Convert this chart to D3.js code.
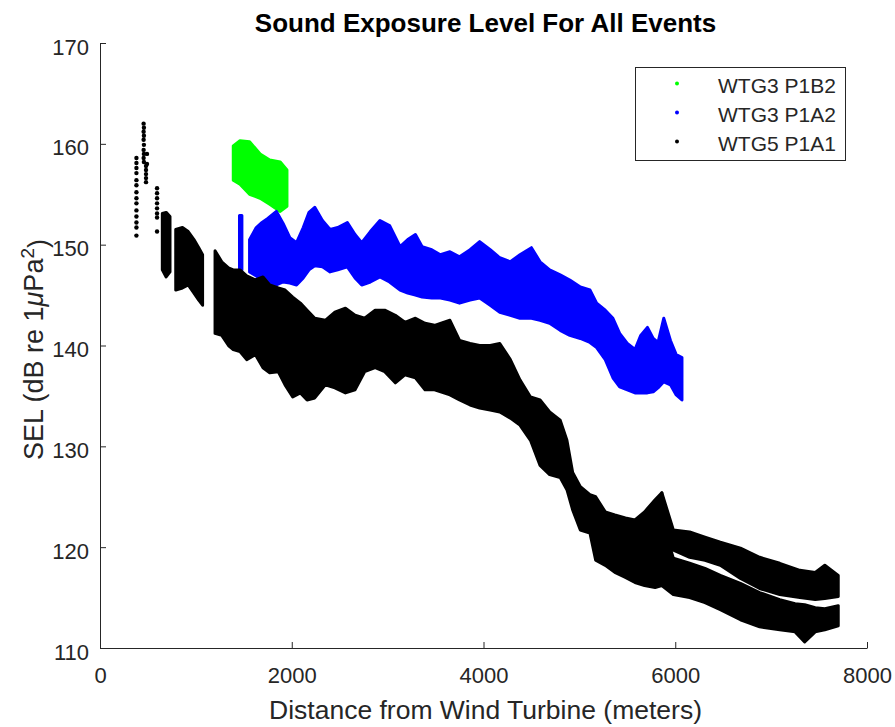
<!DOCTYPE html>
<html>
<head>
<meta charset="utf-8">
<script src="https://cdn.jsdelivr.net/npm/d3@7"></script>
<style>
  body { margin: 0; background: #fff; }
  svg { display: block; font-family: "Liberation Sans", Arial, Helvetica, sans-serif; }
</style>
</head>
<body>
<div id="chart"></div>
<script>
// axis ticks
var xTicks = [0, 2000, 4000, 6000, 8000];
var yTicks = [110, 120, 130, 140, 150, 160, 170];

// legend
var seriesNames = ['WTG3 P1B2', 'WTG3 P1A2', 'WTG5 P1A1'];
var seriesColors = ['#00ff00', '#0000ff', '#000000'];

// WTG3 P1B2
var greenDist = [1390, 1460, 1560, 1670, 1770, 1880, 1950];
var greenLow  = [156.4, 156.0, 155.0, 154.6, 154.0, 153.3, 153.8];
var greenHigh = [159.8, 160.3, 160.2, 159.0, 158.4, 158.2, 157.4];

// WTG3 P1A2, short stick before the main cloud
var blueStickDist = [1455, 1480];
var blueStickLow  = [147.3, 147.5];
var blueStickHigh = [152.9, 152.9];

// WTG3 P1A2 main cloud
var blueDist = [1560, 1630, 1690, 1750, 1840, 1910, 1980, 2050, 2120, 2180, 2240, 2320,
  2400, 2480, 2580, 2660, 2730, 2820, 2920, 3020, 3130, 3210, 3290, 3360, 3460, 3550,
  3650, 3750, 3860, 3960, 4070, 4170, 4280, 4380, 4500, 4590, 4690, 4800, 4900, 5010,
  5110, 5180, 5270, 5350, 5420, 5500, 5580, 5640, 5710, 5770, 5820, 5880, 5950, 6010, 6070];
var blueLow = [147.3, 146.9, 146.5, 146.2, 146.0, 146.3, 146.2, 146.0, 146.7, 147.5, 147.9, 147.8,
  147.3, 147.5, 147.8, 146.7, 146.0, 146.3, 146.8, 146.3, 145.5, 145.2, 145.0, 144.8, 144.7, 144.7,
  144.5, 144.2, 144.5, 144.7, 144.0, 143.3, 143.0, 142.7, 142.7, 142.5, 142.2, 141.5, 141.0, 140.7,
  140.3, 139.8, 138.6, 136.8, 135.9, 135.6, 135.3, 135.3, 135.3, 135.4, 135.8, 136.4, 136.1, 135.1, 134.6];
var blueHigh = [150.5, 151.7, 152.2, 152.6, 153.3, 152.1, 150.7, 150.2, 151.7, 153.2, 153.7, 152.4,
  151.5, 151.7, 152.2, 151.0, 150.2, 151.3, 152.4, 151.9, 149.8, 150.5, 151.0, 149.8, 149.5, 149.0,
  149.3, 148.8, 149.5, 150.3, 149.5, 148.7, 148.3, 149.0, 149.7, 148.3, 147.5, 147.0, 146.5, 145.8,
  145.5, 144.2, 143.5, 142.7, 141.2, 140.2, 139.6, 141.0, 141.8, 140.7, 140.3, 142.7, 140.5, 139.1, 138.8];

// WTG5 P1A1, isolated dots at short range
var sparseDist = [380, 380, 380, 380, 380, 380, 380, 380, 380, 380, 380, 380, 380, 380,
  455, 455, 455, 455, 455, 458, 458, 458, 458, 458, 480, 480, 480, 480, 480, 490, 490,
  595, 595, 595, 595, 595, 595, 595, 595];
var sparseSel = [158.6, 158.1, 157.6, 157.1, 156.4, 155.9, 155.2, 154.6, 154.1, 153.4, 152.8, 152.2, 151.7, 150.9,
  162.0, 161.2, 160.4, 159.4, 158.6, 161.6, 160.8, 159.9, 159.0, 158.2, 157.8, 157.4, 157.0, 156.6, 156.2, 158.0, 159.0,
  155.6, 155.1, 154.6, 154.1, 153.6, 153.1, 152.7, 151.3];

// WTG5 P1A1 small clusters
var blackADist = [650, 690, 730];
var blackALow  = [147.5, 146.8, 147.3];
var blackAHigh = [153.1, 153.2, 152.8];

var blackBDist = [790, 860, 920, 980, 1030, 1070];
var blackBLow  = [145.5, 145.7, 146.0, 145.2, 144.5, 144.0];
var blackBHigh = [151.5, 151.7, 151.3, 150.5, 149.7, 149.0];

// WTG5 P1A1 main cloud
var blackDist = [1200, 1270, 1340, 1390, 1460, 1530, 1620, 1700, 1770, 1860, 1930, 2010, 2090,
  2160, 2240, 2350, 2450, 2560, 2660, 2760, 2870, 2970, 3080, 3180, 3290, 3390, 3490, 3650,
  3750, 3860, 3960, 4070, 4170, 4280, 4380, 4490, 4590, 4690, 4800, 4870, 4930, 5010, 5110,
  5170, 5270, 5370, 5480, 5580, 5680, 5790, 5860];
var blackLow = [141.2, 141.0, 140.0, 139.6, 139.4, 138.6, 139.1, 137.8, 137.3, 137.4, 136.1, 134.9, 135.3,
  134.6, 134.8, 136.1, 135.8, 135.3, 135.6, 137.4, 137.8, 137.4, 136.3, 137.1, 136.8, 135.6, 135.6, 135.1,
  134.6, 134.1, 133.8, 133.6, 133.4, 132.8, 132.1, 130.6, 128.1, 127.2, 126.9, 125.7, 123.7, 121.7, 121.4,
  118.7, 118.2, 117.5, 117.0, 116.5, 116.2, 116.0, 116.2];
var blackHigh = [149.4, 148.3, 147.7, 147.5, 147.5, 146.9, 146.5, 146.8, 146.0, 145.7, 145.5, 144.8, 144.2,
  143.5, 142.7, 142.5, 143.3, 143.7, 143.0, 142.7, 143.5, 143.5, 143.0, 142.3, 142.7, 142.2, 142.0, 142.5,
  140.5, 140.2, 140.0, 140.0, 140.2, 138.6, 136.6, 134.9, 134.6, 133.4, 132.6, 130.6, 127.4, 126.0, 125.2,
  125.0, 123.5, 123.2, 122.9, 122.7, 123.5, 124.7, 125.4];

// WTG5 P1A1 far range, upper and lower strands
var upperDist = [5860, 5980, 6150, 6310, 6470, 6680, 6880, 7090, 7300, 7460, 7560, 7700];
var upperLow  = [120.4, 119.7, 119.0, 118.7, 118.2, 116.9, 115.9, 115.3, 115.0, 114.8, 114.9, 115.1];
var upperHigh = [125.4, 121.7, 121.5, 121.0, 120.5, 119.9, 119.0, 118.4, 117.7, 117.5, 118.2, 117.2];

var lowerDist = [5860, 5980, 6150, 6310, 6470, 6680, 6880, 7090, 7250, 7350, 7460, 7560, 7700];
var lowerLow  = [116.2, 115.3, 115.0, 114.5, 113.8, 112.8, 112.1, 111.8, 111.6, 110.6, 111.6, 111.8, 112.2];
var lowerHigh = [122.7, 118.9, 118.4, 117.9, 117.2, 116.4, 115.5, 114.8, 114.4, 114.3, 114.0, 113.9, 114.2];

var width = 895, height = 727;
var margin = { top: 43, right: 28, bottom: 79, left: 100 };
var fontFamily = '"Liberation Sans", Arial, Helvetica, sans-serif';
var axisColor = '#262626';

var x = d3.scaleLinear().domain([0, 8000]).range([margin.left, width - margin.right]);
var y = d3.scaleLinear().domain([110, 170]).range([height - margin.bottom, margin.top]);

var svg = d3.select('#chart').append('svg')
  .attr('width', width)
  .attr('height', height);

function band(dist, low, high, color) {
  return dist.map(function (d, i) {
    return { d: d, lo: low[i], hi: high[i], color: color };
  });
}

// plot order as in the legend, black ends on top
var bands = [
  band(greenDist, greenLow, greenHigh, seriesColors[0]),
  band(blueStickDist, blueStickLow, blueStickHigh, seriesColors[1]),
  band(blueDist, blueLow, blueHigh, seriesColors[1]),
  band(blackADist, blackALow, blackAHigh, seriesColors[2]),
  band(blackBDist, blackBLow, blackBHigh, seriesColors[2]),
  band(blackDist, blackLow, blackHigh, seriesColors[2]),
  band(upperDist, upperLow, upperHigh, seriesColors[2]),
  band(lowerDist, lowerLow, lowerHigh, seriesColors[2])
];

var area = d3.area()
  .x(function (p) { return x(p.d); })
  .y0(function (p) { return y(p.lo); })
  .y1(function (p) { return y(p.hi); });

svg.append('g').attr('class', 'bands')
  .selectAll('path')
  .data(bands)
  .enter().append('path')
  .attr('d', area)
  .style('fill', function (b) { return b[0].color; })
  .style('stroke', function (b) { return b[0].color; })
  .style('stroke-width', 3)
  .style('stroke-linejoin', 'round');

svg.append('g').attr('class', 'dots')
  .selectAll('circle')
  .data(sparseDist)
  .enter().append('circle')
  .attr('cx', function (d) { return x(d); })
  .attr('cy', function (d, i) { return y(sparseSel[i]); })
  .attr('r', 2.2)
  .style('fill', seriesColors[2]);

// axes, MATLAB style: left and bottom only, ticks inside
var xAxis = d3.axisBottom(x).tickValues(xTicks).tickFormat(d3.format('d'))
  .tickSizeInner(-6).tickSizeOuter(0).tickPadding(19.5);
var yAxis = d3.axisLeft(y).tickValues(yTicks).tickFormat(d3.format('d'))
  .tickSizeInner(-6).tickSizeOuter(0).tickPadding(11);

var gx = svg.append('g')
  .attr('transform', 'translate(0,' + (height - margin.bottom) + ')')
  .call(xAxis);
var gy = svg.append('g')
  .attr('transform', 'translate(' + margin.left + ',0)')
  .call(yAxis);

[gx, gy].forEach(function (g) {
  g.select('.domain').style('stroke', axisColor).style('stroke-width', 1);
  g.selectAll('.tick line').style('stroke', axisColor);
  g.selectAll('.tick text')
    .style('fill', axisColor)
    .style('font-family', fontFamily)
    .style('font-size', '22px');
});
gy.selectAll('.tick text').attr('dy', '0.5em');

// title and labels
svg.append('text')
  .attr('x', (x.range()[0] + x.range()[1]) / 2 + 2)
  .attr('y', 32)
  .attr('text-anchor', 'middle')
  .style('font-size', '26px')
  .style('font-weight', 'bold')
  .style('fill', '#000')
  .text('Sound Exposure Level For All Events');

svg.append('text')
  .attr('x', (x.range()[0] + x.range()[1]) / 2 + 2)
  .attr('y', 719)
  .attr('text-anchor', 'middle')
  .style('font-size', '26.5px')
  .style('fill', axisColor)
  .text('Distance from Wind Turbine (meters)');

var ylab = svg.append('text')
  .attr('transform', 'translate(43,' + ((y.range()[0] + y.range()[1]) / 2 + 4) + ') rotate(-90)')
  .attr('text-anchor', 'middle')
  .style('font-size', '27px')
  .style('fill', axisColor);
ylab.append('tspan').text('SEL (dB re 1');
ylab.append('tspan').style('font-style', 'italic').text('\u03bc');
ylab.append('tspan').text('Pa');
ylab.append('tspan').attr('dy', '-0.45em').style('font-size', '19px').text('2');
ylab.append('tspan').attr('dy', '0.45em').text(')');

// legend
var legend = svg.append('g').attr('class', 'legend');
legend.append('rect')
  .attr('x', 635.5)
  .attr('y', 67.5)
  .attr('width', 210)
  .attr('height', 93)
  .style('fill', '#fff')
  .style('stroke', axisColor)
  .style('stroke-width', 1);

var rowY = d3.scalePoint().domain(seriesNames).range([85, 143]);

var rows = legend.selectAll('.row')
  .data(seriesNames)
  .enter().append('g')
  .attr('class', 'row')
  .attr('transform', function (n) { return 'translate(0,' + rowY(n) + ')'; });

rows.append('circle')
  .attr('cx', 677)
  .attr('cy', -1.5)
  .attr('r', 2)
  .style('fill', function (n, i) { return seriesColors[i]; });

rows.append('text')
  .attr('x', 718)
  .attr('dy', '0.36em')
  .style('font-size', '21px')
  .style('fill', axisColor)
  .text(function (n) { return n; });
</script>
</body>
</html>
